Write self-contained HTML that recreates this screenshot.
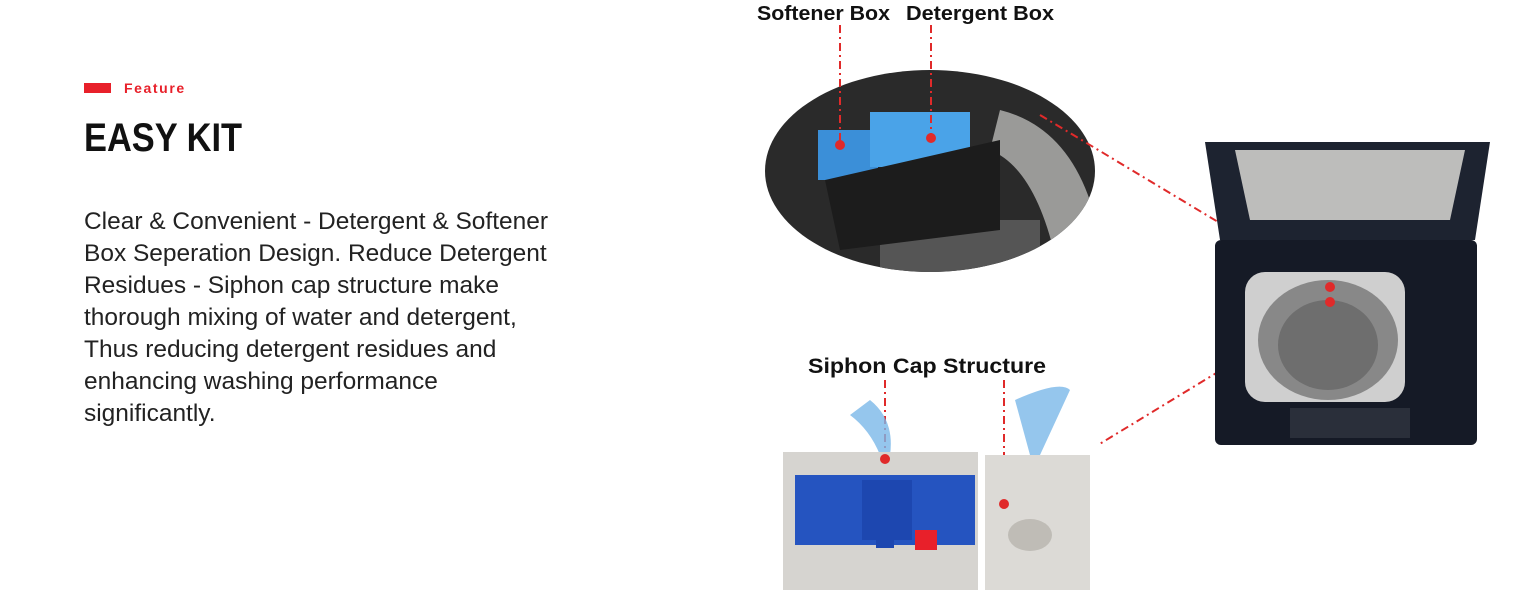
<!DOCTYPE html>
<html><head><meta charset="utf-8"><style>
body{margin:0;width:1536px;height:606px;background:#fff;position:relative;overflow:hidden;font-family:"Liberation Sans",sans-serif}
.bar{position:absolute;left:84px;top:83px;width:27px;height:10px;background:#e8202a}
.feat{position:absolute;left:124px;top:80px;font-size:14px;font-weight:bold;color:#e8202a;letter-spacing:1.6px}
h1{position:absolute;left:84px;top:116px;margin:0;font-size:40px;font-weight:bold;color:#111;transform:scaleX(0.86);transform-origin:0 0}
p{position:absolute;left:84px;top:206px;margin:0;font-size:24px;line-height:32px;color:#222;white-space:nowrap;transform:scaleX(1.02);transform-origin:0 0}
svg{position:absolute;left:0;top:0}
</style></head><body>
<div class="bar"></div><div class="feat">Feature</div>
<h1>EASY KIT</h1>
<p>Clear &amp; Convenient - Detergent &amp; Softener<br>Box Seperation Design. Reduce Detergent<br>Residues - Siphon cap structure make<br>thorough mixing of water and detergent,<br>Thus reducing detergent residues and<br>enhancing washing performance<br>significantly.</p>
<svg width="1536" height="606">
<defs><clipPath id="c"><ellipse cx="930" cy="171" rx="165" ry="101"/></clipPath></defs>
<ellipse cx="930" cy="171" rx="165" ry="101" fill="#2a2a2a"/>
<g clip-path="url(#c)">
<path d="M1000 110 Q1080 130 1100 240 L1060 280 Q1040 170 990 150Z" fill="#9a9a98"/>
<rect x="880" y="220" width="160" height="60" fill="#555"/>
<rect x="818" y="130" width="60" height="50" fill="#3b8fd8"/>
<rect x="870" y="112" width="100" height="55" fill="#4aa3e8"/>
<path d="M825 180 L1000 140 L1000 230 L840 250Z" fill="#1c1c1c"/>
</g>
<text x="757" y="20" font-size="20" font-weight="bold" fill="#111" textLength="133" lengthAdjust="spacingAndGlyphs">Softener Box</text>
<text x="906" y="20" font-size="20" font-weight="bold" fill="#111" textLength="148" lengthAdjust="spacingAndGlyphs">Detergent Box</text>
<g stroke="#e02a2a" stroke-width="2" stroke-dasharray="8,4,2,4" fill="none">
<line x1="840" y1="25" x2="840" y2="143"/><line x1="931" y1="25" x2="931" y2="136"/>
<line x1="1040" y1="115" x2="1328" y2="288"/><line x1="1328" y1="305" x2="1098" y2="445"/>
<line x1="885" y1="380" x2="885" y2="458"/><line x1="1004" y1="380" x2="1004" y2="502"/>
<rect x="857" y="472" width="56" height="100" rx="14"/><rect x="1000" y="508" width="70" height="80" rx="12"/>
</g>
<path d="M1205 142 L1490 142 L1475 240 L1220 240Z" fill="#1d2330"/>
<path d="M1235 150 L1465 150 L1450 220 L1250 220Z" fill="#bdbdbb"/>
<rect x="1215" y="240" width="262" height="205" rx="6" fill="#151a26"/>
<rect x="1245" y="272" width="160" height="130" rx="20" fill="#cfcfcf"/>
<ellipse cx="1328" cy="340" rx="70" ry="60" fill="#888"/>
<ellipse cx="1328" cy="345" rx="50" ry="45" fill="#6e6e6e"/>
<rect x="1290" y="408" width="120" height="30" fill="#2a2f3a"/>
<circle cx="1330" cy="287" r="5" fill="#e02a2a"/><circle cx="1330" cy="302" r="5" fill="#e02a2a"/>
<circle cx="840" cy="145" r="5" fill="#e02a2a"/><circle cx="931" cy="138" r="5" fill="#e02a2a"/>
<text x="808" y="373" font-size="21" font-weight="bold" fill="#111" textLength="238" lengthAdjust="spacingAndGlyphs">Siphon Cap Structure</text>
<path d="M870 400 Q895 420 890 455 L880 455 Q870 430 850 415Z" fill="#7ab8e8" opacity="0.8"/>
<path d="M1015 400 Q1060 380 1070 390 L1040 455 L1030 455 Z" fill="#7ab8e8" opacity="0.8"/>
<rect x="783" y="452" width="195" height="138" fill="#d6d4d0"/>
<rect x="795" y="475" width="180" height="70" fill="#2554c0"/>
<rect x="862" y="480" width="50" height="60" fill="#1d47b0"/>
<rect x="876" y="530" width="18" height="18" fill="#1d47b0"/>
<rect x="915" y="530" width="22" height="20" fill="#e8202a"/>
<rect x="985" y="455" width="105" height="135" fill="#dcdad6"/>
<ellipse cx="1030" cy="535" rx="22" ry="16" fill="#bfbcb6"/>
<circle cx="885" cy="459" r="5" fill="#e02a2a"/><circle cx="1004" cy="504" r="5" fill="#e02a2a"/>
</svg>
</body></html>
